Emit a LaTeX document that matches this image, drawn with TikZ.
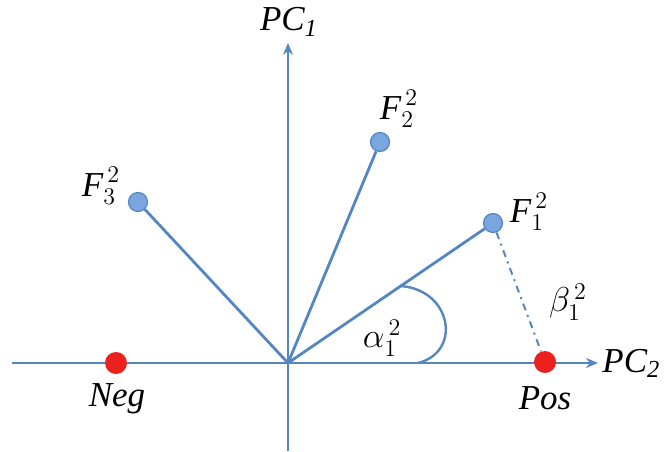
\documentclass[tikz,border=0pt]{standalone}
\usepackage{amsmath}
\usepackage{fontspec}
\setmainfont{Liberation Serif}
\usetikzlibrary{arrows.meta,calc,positioning}
\definecolor{axisblue}{RGB}{84,134,194}
\definecolor{dotblue}{RGB}{122,166,224}
\definecolor{dotred}{RGB}{236,32,28}

\begin{document}
\begin{tikzpicture}[x=0.5pt,y=-0.5pt,>={Stealth[length=6pt,width=5pt]},
  axis/.style={axisblue,line width=1.4pt},
  fdot/.style={circle,fill=dotblue,draw=axisblue,line width=0.6pt,inner sep=0pt,minimum size=9.5pt},
  cdot/.style={circle,fill=dotred,inner sep=0pt,minimum size=11pt},
  lab/.style={font=\fontsize{17.5}{20}\selectfont}]
\useasboundingbox (0,0) rectangle (669,451);
\coordinate (O) at (288,363);
\coordinate (xl) at (12,363); \coordinate (xr) at (598,363);
\coordinate (yb) at (288,451); \coordinate (yt) at (288,43);
\draw[axis,->] (xl)--(xr);
\draw[axis,->] (yb)--(yt);
\node[lab] (pc1) at (289,22) {$\textit{PC}_{\textit{1}}$};
\node[lab,right=1pt of xr,inner sep=1pt] (pc2) {$\textit{PC}_{\textit{2}}$};
% factor loadings
\node[fdot] (f1) at (493,223) {};
\node[fdot] (f2) at (380,142) {};
\node[fdot] (f3) at (138,202) {};
\draw[axis] (O)--(f1);
\draw[axis] (O)--(f2);
\draw[axis] (O)--(f3);
\node[lab] (lf1) at (529,212) {$\textit{F}_{1}^{\,2}$};
\node[lab] (lf2) at (399,109) {$\textit{F}_{2}^{\,2}$};
\node[lab] (lf3) at (101,186) {$\textit{F}_{3}^{\,2}$};
% classes
\node[cdot] (neg) at (116,363) {};
\node[cdot] (pos) at (545,362) {};
\node[lab] (lneg) at (117,399) {\textit{Neg}};
\node[lab] (lpos) at (545,398) {\textit{Pos}};
% angle and distance
\coordinate (a0) at ($(O)!0.55!(f1)$);
\coordinate (a1) at (418,363);
\draw[axis,line width=1.2pt] (a0) .. controls (452,290) and (462,352) .. (a1);
\node[lab] (lalpha) at (382,338) {$\alpha_{1}^{\,2}$};
\draw[axis,line width=1pt,dash pattern=on 3.5pt off 2.5pt on 1pt off 2.5pt] (f1)--(pos);
\node[lab] (lbeta) at (568,302) {$\beta_{1}^{\,2}$};
\end{tikzpicture}
\end{document}
